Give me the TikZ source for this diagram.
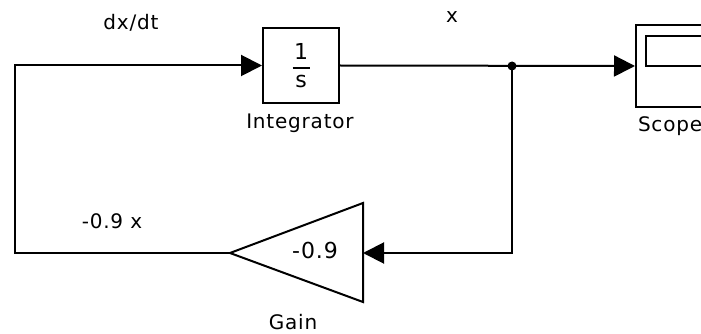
\documentclass[tikz,border=0pt]{standalone}
\usepackage{fontspec}
\setmainfont{DejaVu Sans}[LetterSpace=4]
\usetikzlibrary{positioning,arrows.meta}

\begin{document}
\begin{tikzpicture}[x=1pt,y=-1pt,line width=2pt,
	every node/.style={font=\fontsize{20}{22}\selectfont,inner sep=0pt},
	blk/.style={draw,minimum width=76pt,minimum height=75pt},
	sig/.style={-{Triangle[length=21pt,width=21pt]}}]
\clip (0,0) rectangle (701,334);

\node[blk,font=\fontsize{22}{24}\selectfont] (int) at (301,65.5) {$\displaystyle{\mbox{\kern1.5pt 1\kern1.5pt}\above2pt\mbox{s}}$};
\node[blk,minimum height=82pt] (scope) at (674,66) {};
\draw (646,36) rectangle (730,66);

\coordinate (gin) at (363,253);
\coordinate (gout) at (230,253);
\coordinate (split) at (512,66);
\draw (363,203) -- (363,302) -- (gout) -- cycle;
\node[font=\fontsize{22}{24}\selectfont] (gval) at (315,250) {-0.9};

\draw[sig] (int.east) -- (scope.west);
\fill (split) circle (4.5pt);
\draw[sig] (split) |- (gin);
\draw[sig] (gout) -- ++(-215,0) |- (int.west);

\node (dxdt) at (131,22.5) {dx/dt};
\node (xlbl) at (452,17) {x};
\node (intlbl) at (300,123.5) {Integrator};
\node[anchor=west] (scopelbl) at (637,126) {Scope};
\node (gainlbl) at (293,322.5) {Gain};
\node (m09x) at (112,221.5) {-0.9 x};

\end{tikzpicture}
\end{document}
